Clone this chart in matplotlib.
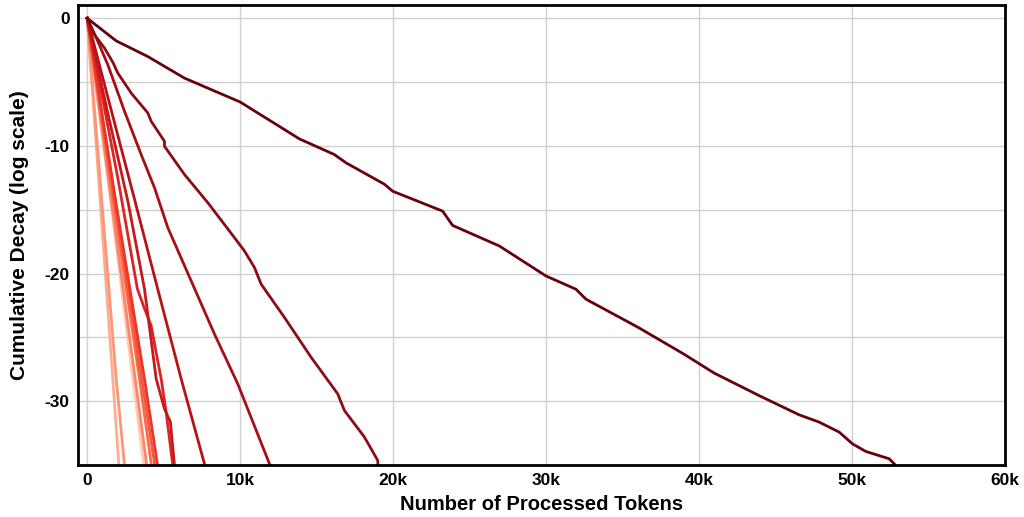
import matplotlib
matplotlib.use("Agg")
import matplotlib.pyplot as plt
from matplotlib.ticker import MultipleLocator, FuncFormatter

plt.rcParams['font.family'] = ['Liberation Sans', 'DejaVu Sans']
plt.rcParams['font.weight'] = 'bold'
plt.rcParams['axes.unicode_minus'] = False

# cumulative decay curves, (tokens, log decay), lightest first
tok_l1 = [0, 1673, 2070]
dec_l1 = [0, -28.25, -35]
tok_l2 = [0, 1000, 1895, 2440]
dec_l2 = [0, -15.0, -28.25, -35]
tok_l3 = [0, 1500, 2980, 3700]
dec_l3 = [0, -14.0, -28.25, -35]
tok_l4 = [0, 1600, 3137, 3890]
dec_l4 = [0, -14.5, -28.25, -35]
tok_l5 = [0, 1700, 3418, 4200]
dec_l5 = [0, -14.2, -28.25, -35]
tok_l6 = [0, 1800, 3569, 4420]
dec_l6 = [0, -14.4, -28.25, -35]
tok_l7 = [0, 1900, 3745, 4600]
dec_l7 = [0, -14.6, -28.25, -35]
tok_e2 = [0, 2000, 3281, 3700, 4183, 4510, 4837, 5163, 5595]
dec_e2 = [0, -12.5, -21.2, -22.6, -24.1, -26.2, -28.25, -30.86, -35]
tok_e1 = [0, 1300, 2658, 3745, 4510, 5052, 5444, 5530, 5706]
dec_e1 = [0, -7.2, -14.32, -21.2, -28.25, -30.6, -31.64, -32.8, -35]
tok_d = [0, 3098, 4614, 6144, 7687]
dec_d = [0, -14.2, -21.23, -28.25, -35]
tok_c = [0, 697, 1351, 2440, 3529, 4401, 5272, 6797, 8322, 9847, 11948]
dec_c = [0, -1.82, -3.65, -7.29, -10.68, -13.28, -16.41, -20.57, -24.74, -28.65, -35]
tok_b = [0, 479, 1133, 1700, 2004, 2900, 3965, 4183, 5054, 5054, 6362, 7887, 9630, 10283,
         10937, 11373, 12898, 14641, 16383, 16819, 18126, 18998, 19010]
dec_b = [0, -1.30, -2.34, -3.5, -4.3, -5.9, -7.42, -8.07, -9.64, -10.03, -12.24, -14.45,
         -17.19, -18.23, -19.53, -20.83, -23.44, -26.56, -29.43, -30.73, -32.81, -34.64, -35]
tok_a = [0, 697, 1895, 3965, 6362, 10000, 12898, 13876, 16166, 16928, 19434, 19974,
         23242, 23895, 26948, 30000, 31961, 32614, 36000, 39000, 41000, 44000, 46556,
         47863, 49170, 50039, 50915, 52438, 52765]
dec_a = [0, -0.65, -1.77, -3.0, -4.69, -6.56, -8.72, -9.45, -10.68, -11.33, -13.0, -13.55,
         -15.11, -16.23, -17.84, -20.19, -21.23, -22.01, -24.2, -26.3, -27.8, -29.6, -31.07,
         -31.64, -32.42, -33.34, -33.94, -34.51, -34.9]

series = [
    (tok_l3, dec_l3, '#fdcab5'),
    (tok_l1, dec_l1, '#fcae91'),
    (tok_l2, dec_l2, '#fc9676'),
    (tok_l4, dec_l4, '#fb8666'),
    (tok_l5, dec_l5, '#fb6a4a'),
    (tok_l6, dec_l6, '#f5553c'),
    (tok_l7, dec_l7, '#ea362a'),
    (tok_e2, dec_e2, '#d92523'),
    (tok_e1, dec_e1, '#c9181d'),
    (tok_d, dec_d, '#b61319'),
    (tok_c, dec_c, '#a50f15'),
    (tok_b, dec_b, '#8c0c14'),
    (tok_a, dec_a, '#67000d'),
]

fig = plt.figure(figsize=(10.24, 5.17), dpi=100)
ax = fig.add_axes([0.0762, 0.1006, 0.905, 0.890])

for x, y, c in series:
    ax.plot(x, y, color=c, linewidth=2.0)

ax.set_xlim(-600, 60000)
ax.set_ylim(-35, 1.05)
ax.xaxis.set_major_locator(MultipleLocator(10000))
ax.yaxis.set_major_locator(MultipleLocator(10))
ax.yaxis.set_minor_locator(MultipleLocator(5))
ax.xaxis.set_major_formatter(FuncFormatter(lambda v, p: '0' if v == 0 else f'{int(v/1000)}k'))
ax.grid(True, which='both', color='#d0d0d0', linewidth=1)
ax.set_axisbelow(True)
ax.tick_params(which='both', length=0, labelsize=12.5, pad=6)
for s in ax.spines.values():
    s.set_linewidth(2)
    s.set_color('black')

ax.set_xlabel('Number of Processed Tokens', fontsize=14.5, fontweight='bold', labelpad=5)
ax.set_ylabel('Cumulative Decay (log scale)', fontsize=15, fontweight='bold', labelpad=11)

fig.savefig('out.png', dpi=100)
